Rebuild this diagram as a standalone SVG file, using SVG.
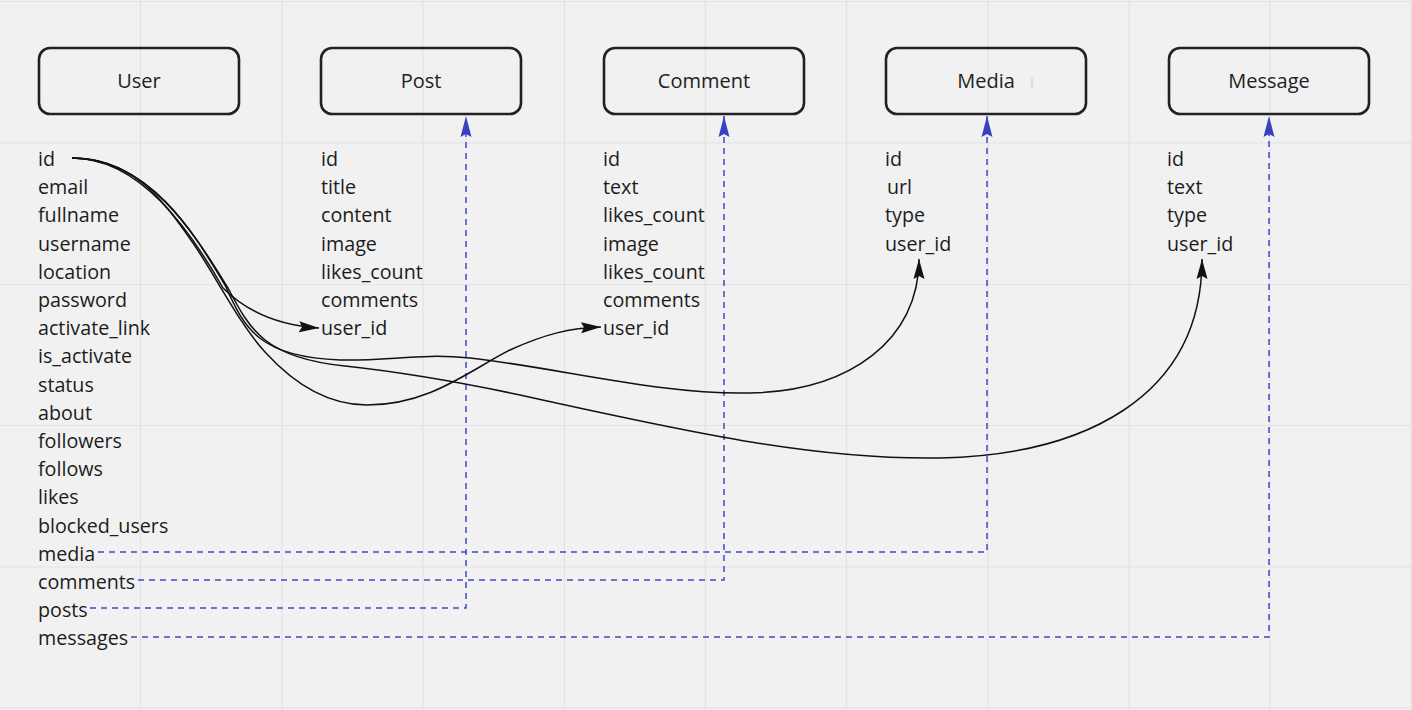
<svg xmlns="http://www.w3.org/2000/svg" width="1412" height="710" viewBox="0 0 1412 710">
<style>
.grid{stroke:#e3e3e3;stroke-width:1.2;fill:none}
.box{fill:none;stroke:#222;stroke-width:2.6}
.title{font-family:"Open Sans","Noto Sans",sans-serif;font-size:20px;fill:#222;text-anchor:middle}
.f{font-family:"Open Sans","Noto Sans",sans-serif;font-size:19.7px;fill:#1c1c1c}
.rel{fill:none;stroke:#111;stroke-width:1.5;marker-end:url(#ab)}
.ref{fill:none;stroke:#4048c4;stroke-width:1.5;stroke-dasharray:6 5;marker-end:url(#au)}
</style>
<defs>
<marker id="ab" markerUnits="userSpaceOnUse" markerWidth="22" markerHeight="14" refX="20" refY="6" orient="auto" viewBox="0 0 22 12">
<path d="M0,0.5 L20,6 L0,11.5 L3,6 Z" fill="#111" stroke="none"/>
</marker>
<marker id="au" markerUnits="userSpaceOnUse" markerWidth="22" markerHeight="14" refX="21" refY="6" orient="auto" viewBox="0 0 22 12">
<path d="M0,0.5 L21,6 L0,11.5 L3,6 Z" fill="#3a40bf" stroke="none"/>
</marker>
</defs>
<rect width="1412" height="710" fill="#f1f1f1"/>
<g id="grid">
<path class="grid" d="M140.5,0V710M282,0V710M423,0V710M564.5,0V710M705.5,0V710M846.5,0V710M988,0V710M1129,0V710M1270,0V710M1411,0V710M0,1.5H1412M0,143H1412M0,284.5H1412M0,425.5H1412M0,567H1412M0,708H1412"/>
</g>
<g id="user">
<rect class="box" x="39" y="48" width="200" height="66" rx="11"/>
<text class="title" x="139" y="88">User</text>
<text class="f" x="38" y="166">id</text>
<text class="f" x="38" y="194.2">email</text>
<text class="f" x="38" y="222.4">fullname</text>
<text class="f" x="38" y="250.6">username</text>
<text class="f" x="38" y="278.8">location</text>
<text class="f" x="38" y="307">password</text>
<text class="f" x="38" y="335.2">activate_link</text>
<text class="f" x="38" y="363.4">is_activate</text>
<text class="f" x="38" y="391.6">status</text>
<text class="f" x="38" y="419.8">about</text>
<text class="f" x="38" y="448">followers</text>
<text class="f" x="38" y="476.2">follows</text>
<text class="f" x="38" y="504.4">likes</text>
<text class="f" x="38" y="532.6">blocked_users</text>
<text class="f" x="38" y="560.8">media</text>
<text class="f" x="38" y="589">comments</text>
<text class="f" x="38" y="617.2">posts</text>
<text class="f" x="38" y="645.4">messages</text>
</g>
<g id="post">
<rect class="box" x="321" y="48" width="200" height="66" rx="11"/>
<text class="title" x="421" y="88">Post</text>
<text class="f" x="321" y="166">id</text>
<text class="f" x="321" y="194.2">title</text>
<text class="f" x="321" y="222.4">content</text>
<text class="f" x="321" y="250.6">image</text>
<text class="f" x="321" y="278.8">likes_count</text>
<text class="f" x="321" y="307">comments</text>
<text class="f" x="321" y="335.2">user_id</text>
</g>
<g id="comment">
<rect class="box" x="604" y="48" width="200" height="66" rx="11"/>
<text class="title" x="704" y="88">Comment</text>
<text class="f" x="603" y="166">id</text>
<text class="f" x="603" y="194.2">text</text>
<text class="f" x="603" y="222.4">likes_count</text>
<text class="f" x="603" y="250.6">image</text>
<text class="f" x="603" y="278.8">likes_count</text>
<text class="f" x="603" y="307">comments</text>
<text class="f" x="603" y="335.2">user_id</text>
</g>
<g id="media">
<rect class="box" x="886" y="48" width="200" height="66" rx="11"/>
<text class="title" x="986" y="88">Media</text>
<line x1="1032" y1="78" x2="1032" y2="88" stroke="#c8c8c8" stroke-width="1"/>
<text class="f" x="885" y="166">id</text>
<text class="f" x="887" y="194.2">url</text>
<text class="f" x="885" y="222.4">type</text>
<text class="f" x="885" y="250.6">user_id</text>
</g>
<g id="message">
<rect class="box" x="1169" y="48" width="200" height="66" rx="11"/>
<text class="title" x="1269" y="88">Message</text>
<text class="f" x="1167" y="166">id</text>
<text class="f" x="1167" y="194.2">text</text>
<text class="f" x="1167" y="222.4">type</text>
<text class="f" x="1167" y="250.6">user_id</text>
</g>
<g id="connectors">
<path class="ref" d="M98,552H987V116"/>
<path class="ref" d="M138,580H724V116"/>
<path class="ref" d="M90,608H466V116"/>
<path class="ref" d="M131,637H1269V116"/>
<path class="rel" d="M72,158 C140,158 190,230 223,288 C240,305 270,325 319,328"/>
<path class="rel" d="M72,158 C130,158 160,195 193,243 C215,275 240,325 265,352 C295,385 330,405 367,405 C430,405 470,370 510,350 C545,334 570,328 601,327"/>
<path class="rel" d="M72,158 C150,158 195,235 225,285 C245,330 260,357 340,360 C390,361 420,353 470,358 C560,368 660,395 750,393 C850,391 919,340 919,259"/>
<path class="rel" d="M72,158 C150,158 197,238 228,288 C250,330 265,358 345,366 C400,372 450,380 520,395 C700,435 820,460 940,458 C1080,455 1202,400 1202,259"/>
</g>
</svg>
